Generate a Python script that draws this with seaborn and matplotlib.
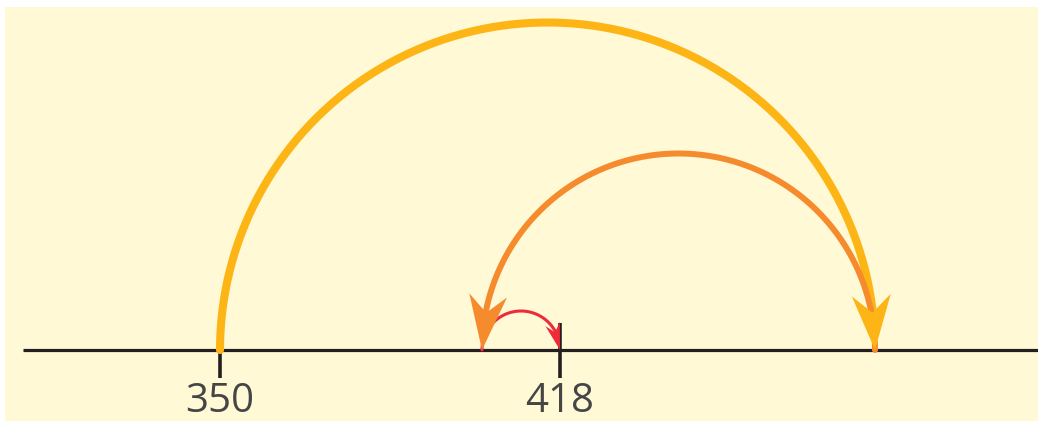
import numpy as np
import pandas as pd
import matplotlib
matplotlib.use("Agg")
import matplotlib.pyplot as plt
import seaborn as sns
from matplotlib.patches import Polygon, Rectangle

# ---- data ----
tick_values = [350, 418]
tick_labels = ["350", "418"]
hop_starts = [350, 481, 402.4]
hop_ends = [481, 402.4, 418]
hop_colors = ["#FDB515", "#F58B2C", "#EE2C39"]
hop_widths = [5.8, 4.3, 2.2]
head_lengths = [11.0, 11.0, 5.4]
head_widths = [7.8, 7.6, 3.0]

sns.set_theme(style="white")
plt.rcParams['font.family'] = ['Open Sans', 'DejaVu Sans']

W, H = 1038, 421
fig = plt.figure(figsize=(W / 100, H / 100), dpi=100, facecolor="white")
ax = fig.add_axes([0, 0, 1, 1])
x0, x1 = 306, 306 + W / 5
y0, y1 = -71 / 5, 70
ax.set_xlim(x0, x1)
ax.set_ylim(y0, y1)
ax.axis("off")

ax.add_patch(Rectangle((x0 + 1, y0), x1 - x0, (y1 - 1.4) - y0,
                       facecolor="#FFF9D6", edgecolor="none", zorder=0))

# number line
line_df = pd.DataFrame({"x": [310.6, x1], "y": [0, 0]})
sns.lineplot(data=line_df, x="x", y="y", color="#231F20", linewidth=2.3,
             ax=ax, zorder=2, solid_capstyle="butt")
ax.vlines(tick_values, -5.6, 5.5, color="#231F20", linewidth=2.6, zorder=2)
for v, lab in zip(tick_values, tick_labels):
    ax.text(v, -12.3, lab, ha="center", va="baseline", fontsize=29,
            color="#454545", zorder=3)

# hops
for s, e, c, lw, L, hw in zip(hop_starts, hop_ends, hop_colors, hop_widths,
                              head_lengths, head_widths):
    cx = (s + e) / 2
    r = abs(e - s) / 2
    d = (e - s) / 2
    t_cut = np.pi - 0.62 * L / r
    t = np.linspace(0, t_cut, 300)
    arc = pd.DataFrame({"x": cx - d * np.cos(t), "y": r * np.sin(t)})
    sns.lineplot(data=arc, x="x", y="y", sort=False, estimator=None,
                 color=c, linewidth=lw, ax=ax, zorder=4)
    tb = np.pi - 0.8 * L / r
    bx, by = cx - d * np.cos(tb), r * np.sin(tb)
    tip = np.array([e, 0.0])
    u = tip - np.array([bx, by])
    u /= np.linalg.norm(u)
    n = np.array([-u[1], u[0]])
    back = tip - u * L
    notch = tip - u * 0.68 * L
    poly = [tip, back + n * hw / 2, notch, back - n * hw / 2]
    ax.add_patch(Polygon(poly, closed=True, facecolor=c, edgecolor="none",
                         zorder=5))

fig.savefig("out.png", dpi=100, facecolor="white")
